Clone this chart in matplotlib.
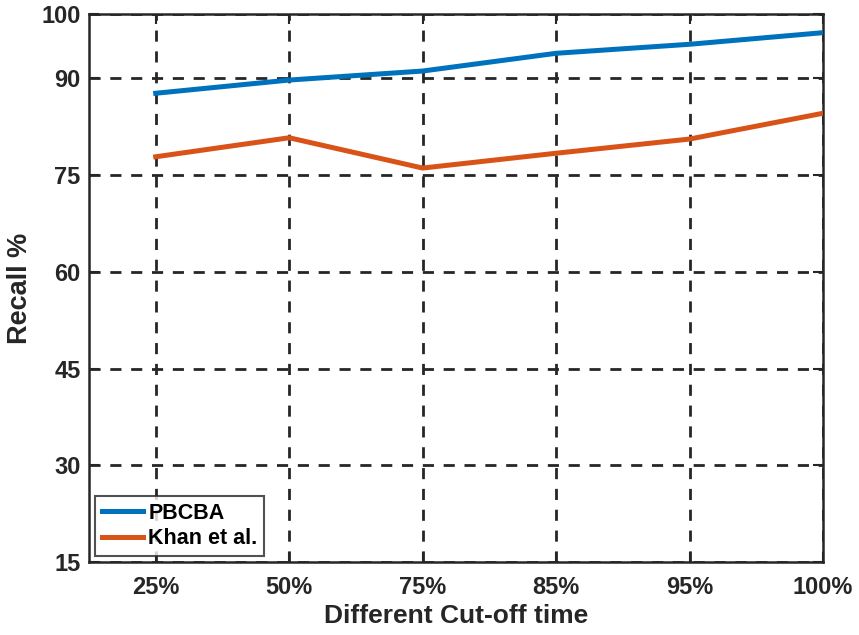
import matplotlib
matplotlib.use("Agg")
import matplotlib.pyplot as plt

cutoffs = ["25%", "50%", "75%", "85%", "95%", "100%"]
pbcba = [87.7, 89.75, 91.15, 93.9, 95.3, 97.1]
khan = [77.85, 80.8, 76.1, 78.4, 80.6, 84.6]
yticks = [15, 30, 45, 60, 75, 90, 100]

plt.rcParams["font.family"] = ["Liberation Sans", "DejaVu Sans"]
plt.rcParams["font.weight"] = "bold"

fig = plt.figure(figsize=(8.59, 6.35), dpi=100)
ax = fig.add_axes([0.1036, 0.115, 0.8545, 0.863])

x = list(range(1, len(cutoffs) + 1))
ax.plot(x, pbcba, color="#0072BD", lw=3.6, label="PBCBA", zorder=3)
ax.plot(x, khan, color="#D95319", lw=3.6, label="Khan et al.", zorder=3)

ax.set_xlim(0.5, 6)
ax.set_ylim(15, 100)
ax.set_xticks(x)
ax.set_xticklabels(cutoffs)
ax.set_yticks(yticks)

ax.grid(True, color="#262626", linestyle=(0, (4, 3.5)), linewidth=2.0)
ax.tick_params(direction="in", length=7, width=1.5, top=True, right=True,
               labelsize=17, colors="#262626")
ax.tick_params(axis="x", pad=10)
ax.tick_params(axis="y", pad=6)
for lab in ax.get_xticklabels() + ax.get_yticklabels():
    lab.set_fontweight("bold")
for s in ax.spines.values():
    s.set_linewidth(1.8)
    s.set_color("#262626")

ax.set_xlabel("Different Cut-off time", fontsize=19, fontweight="bold",
              color="#262626", labelpad=4)
ax.set_ylabel("Recall %", fontsize=19.5, fontweight="bold",
              color="#262626", labelpad=6)

leg = ax.legend(loc="lower left", frameon=True, fancybox=False,
                edgecolor="#262626", handlelength=1.9, handletextpad=0.25,
                borderpad=0.3, labelspacing=0.2, borderaxespad=0.3,
                prop={"weight": "bold", "size": 15.5})
leg.get_frame().set_linewidth(1.5)
for t in leg.get_texts():
    t.set_color("#000000")

fig.savefig("out.png", dpi=100)
